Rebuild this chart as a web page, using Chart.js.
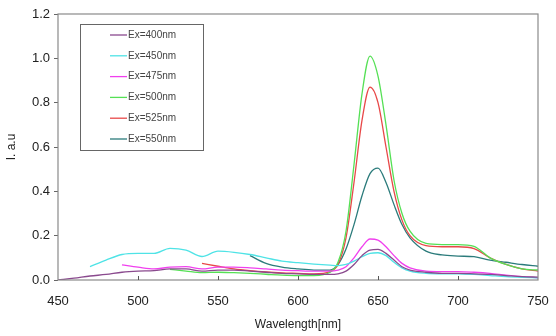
<!DOCTYPE html>
<html>
<head>
<meta charset="utf-8">
<script src="https://cdn.jsdelivr.net/npm/chart.js@4.4.0/dist/chart.umd.min.js"></script>
<style>
  html, body { margin: 0; padding: 0; background: #fff; }
  #wrap { width: 556px; height: 336px; }
</style>
</head>
<body>
<div id="wrap"><canvas id="specChart" width="556" height="336"></canvas></div>
<script>
// wavelength grid (nm)
const wavelengths = [450, 460, 470, 480, 490, 500, 510, 520, 530, 540, 550, 560, 570, 580, 590, 600, 610, 620,
    625, 630, 635, 640, 645, 650, 655, 660, 665, 670,
    680, 690, 700, 710, 720, 730, 740, 750];

const seriesLabels = ['Ex=400nm', 'Ex=450nm', 'Ex=475nm', 'Ex=500nm', 'Ex=525nm', 'Ex=550nm'];
const seriesColors = ['#8a4a8e', '#4fe3e6', '#f040ee', '#55e055', '#e84848', '#2b7b7b'];

const ex400 = [0, 0.008, 0.018, 0.025, 0.035, 0.04, 0.042, 0.05, 0.05, 0.04, 0.045, 0.045, 0.04, 0.035, 0.03, 0.028, 0.025, 0.025,
    0.028, 0.04, 0.07, 0.11, 0.135, 0.138, 0.12, 0.09, 0.06, 0.045,
    0.035, 0.03, 0.03, 0.028, 0.025, 0.02, 0.015, 0.013];
const ex450 = [null, null, 0.06, 0.09, 0.115, 0.12, 0.12, 0.143, 0.135, 0.106, 0.13, 0.125, 0.115, 0.1, 0.085, 0.078, 0.072, 0.067,
    0.065, 0.07, 0.085, 0.105, 0.12, 0.123, 0.11, 0.08, 0.055, 0.04,
    0.03, 0.028, 0.028, 0.025, 0.02, 0.015, 0.012, 0.01];
const ex475 = [null, null, null, null, 0.068, 0.058, 0.05, 0.058, 0.06, 0.05, 0.058, 0.058, 0.055, 0.05, 0.045, 0.042, 0.04, 0.04,
    0.045, 0.06, 0.1, 0.15, 0.185, 0.18, 0.15, 0.11, 0.075, 0.055,
    0.04, 0.038, 0.038, 0.035, 0.03, 0.022, 0.015, 0.01];
const ex500 = [null, null, null, null, null, null, null, 0.048, 0.04, 0.033, 0.035, 0.033, 0.03, 0.026, 0.022, 0.02, 0.02, 0.035,
    0.08, 0.22, 0.52, 0.84, 1.01, 0.92, 0.7, 0.45, 0.3, 0.22,
    0.165, 0.16, 0.16, 0.152, 0.1, 0.07, 0.05, 0.045];
const ex525 = [null, null, null, null, null, null, null, null, null, 0.075, 0.062, 0.05, 0.042, 0.036, 0.032, 0.03, 0.028, 0.038,
    0.07, 0.19, 0.44, 0.72, 0.87, 0.8, 0.6, 0.4, 0.27, 0.2,
    0.155, 0.15, 0.15, 0.142, 0.1, 0.07, 0.05, 0.04];
const ex550 = [null, null, null, null, null, null, null, null, null, null, null, null, 0.11, 0.075, 0.058, 0.05, 0.045, 0.045,
    0.07, 0.14, 0.25, 0.38, 0.48, 0.505, 0.44, 0.34, 0.25, 0.19,
    0.13, 0.113, 0.108, 0.105, 0.09, 0.08, 0.07, 0.062];

const xTicks = [450, 500, 550, 600, 650, 700, 750];
const yTicks = [0, 0.2, 0.4, 0.6, 0.8, 1.0, 1.2];

const allSeries = [ex400, ex450, ex475, ex500, ex525, ex550];

function toPoints(values) {
    return wavelengths
        .map((w, i) => ({ x: w, y: values[i] }))
        .filter(p => p.y !== null);
}

// frame around the plot area plus inward x ticks
const framePlugin = {
    id: 'frame',
    afterDraw(chart) {
        const { ctx, chartArea, scales } = chart;
        ctx.save();
        ctx.strokeStyle = '#8a8a8a';
        ctx.lineWidth = 1.2;
        ctx.strokeRect(chartArea.left, chartArea.top, chartArea.right - chartArea.left, chartArea.bottom - chartArea.top);
        ctx.strokeStyle = '#555';
        ctx.lineWidth = 1;
        xTicks.slice(1, -1).forEach(v => {
            const px = Math.round(scales.x.getPixelForValue(v)) + 0.5;
            ctx.beginPath();
            ctx.moveTo(px, chartArea.bottom);
            ctx.lineTo(px, chartArea.bottom - 4);
            ctx.stroke();
        });
        ctx.restore();
    }
};

// boxed legend inside the plot
const boxLegendPlugin = {
    id: 'boxLegend',
    afterDatasetsDraw(chart) {
        const { ctx } = chart;
        const left = 80, top = 24, w = 123, h = 126;
        ctx.save();
        ctx.fillStyle = '#fff';
        ctx.fillRect(left, top, w, h);
        ctx.strokeStyle = '#666';
        ctx.lineWidth = 1;
        ctx.strokeRect(left + 0.5, top + 0.5, w, h);
        ctx.font = '10px "Liberation Sans", Arial, sans-serif';
        ctx.textBaseline = 'middle';
        chart.data.datasets.forEach((ds, i) => {
            const y = top + 11 + i * 20.8;
            ctx.strokeStyle = ds.borderColor;
            ctx.lineWidth = 1.3;
            ctx.beginPath();
            ctx.moveTo(110, y);
            ctx.lineTo(127, y);
            ctx.stroke();
            ctx.fillStyle = '#444';
            ctx.fillText(ds.label, 128, y);
        });
        ctx.restore();
    }
};

function renderChart() {
    const ctx = document.getElementById('specChart').getContext('2d');
    new Chart(ctx, {
        type: 'line',
        data: {
            datasets: allSeries.map((vals, i) => ({
                label: seriesLabels[i],
                data: toPoints(vals),
                borderColor: seriesColors[i],
                borderWidth: 1.3,
                pointRadius: 0,
                fill: false,
                cubicInterpolationMode: 'monotone'
            }))
        },
        options: {
            responsive: false,
            animation: false,
            events: [],
            layout: { padding: { top: 14, right: 18, left: 0, bottom: 0 } },
            plugins: {
                legend: { display: false },
                tooltip: { enabled: false }
            },
            scales: {
                x: {
                    type: 'linear',
                    min: 450,
                    max: 750,
                    afterFit: s => { s.height = 56; s.paddingLeft = 0; s.paddingRight = 0; },
                    afterBuildTicks: s => { s.ticks = xTicks.map(v => ({ value: v })); },
                    grid: { display: false, drawTicks: false },
                    border: { display: false },
                    ticks: {
                        padding: 14,
                        color: '#222',
                        font: { family: '"Liberation Sans", Arial, sans-serif', size: 13 }
                    },
                    title: {
                        display: true,
                        text: 'Wavelength[nm]',
                        color: '#222',
                        font: { family: '"Liberation Sans", Arial, sans-serif', size: 12 },
                        padding: { top: 1 }
                    }
                },
                y: {
                    min: 0,
                    max: 1.2,
                    afterFit: s => { s.width = 58; s.paddingTop = 0; s.paddingBottom = 0; },
                    afterBuildTicks: s => { s.ticks = yTicks.map(v => ({ value: v })); },
                    grid: { drawOnChartArea: false, drawTicks: true, tickLength: 4, color: '#666' },
                    border: { display: false },
                    ticks: {
                        padding: 4,
                        color: '#222',
                        callback: v => v.toFixed(1),
                        font: { family: '"Liberation Sans", Arial, sans-serif', size: 13 }
                    },
                    title: {
                        display: true,
                        text: 'I. a.u',
                        color: '#222',
                        font: { family: '"Liberation Sans", Arial, sans-serif', size: 12 },
                        padding: { bottom: 0 }
                    }
                }
            }
        },
        plugins: [framePlugin, boxLegendPlugin]
    });
}

document.addEventListener('DOMContentLoaded', () => {
    renderChart();
});
</script>
</body>
</html>
